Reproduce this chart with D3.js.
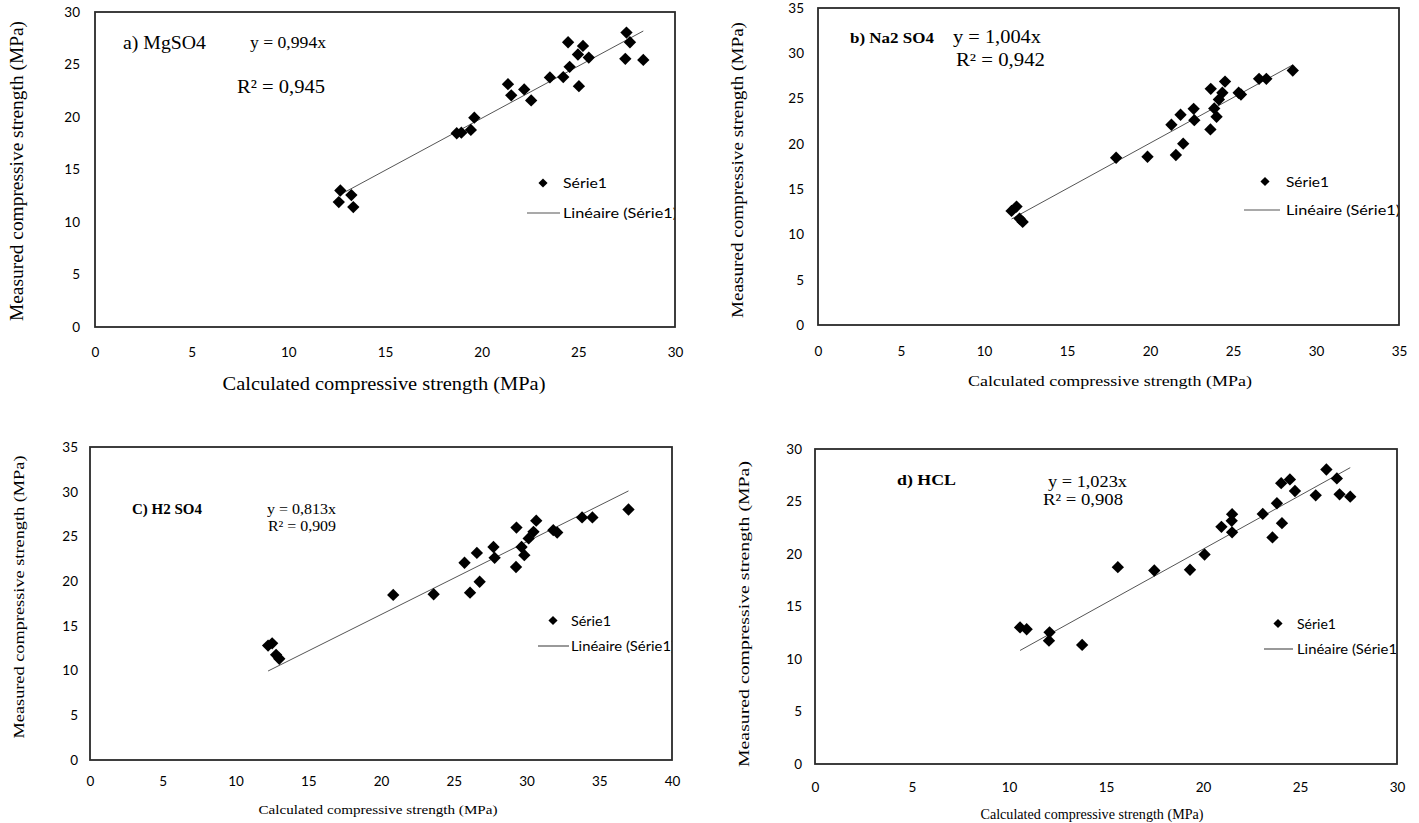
<!DOCTYPE html>
<html><head><meta charset="utf-8">
<script src="https://cdn.jsdelivr.net/npm/d3@7"></script>
<style>body{margin:0;background:#fff}svg{display:block}</style>
</head><body>
<svg id="c" width="1419" height="823"></svg>
<script>
// ---------- DATA ----------
const mgso4X = [12.69,13.26,12.61,13.36,18.71,18.95,19.44,19.62,21.36,21.53,22.20,22.56,23.53,24.22,24.55,25.03,24.47,24.98,25.24,25.54,27.49,27.67,27.43,28.36];
const mgso4Y = [13.00,12.56,11.90,11.42,18.45,18.51,18.77,19.94,23.13,22.06,22.63,21.58,23.77,23.80,24.78,22.94,27.12,25.95,26.77,25.66,28.04,27.12,25.54,25.44];
const na2so4X = [11.66,11.96,12.14,12.33,17.96,19.85,21.56,22.00,21.29,21.84,22.63,22.67,23.64,23.66,23.87,24.01,24.15,24.36,24.52,25.34,25.48,26.57,27.01,28.60];
const na2so4Y = [12.60,13.07,11.75,11.38,18.47,18.58,18.77,20.02,22.11,23.21,23.87,22.62,21.59,26.08,23.91,22.99,24.90,25.64,26.88,25.64,25.45,27.18,27.18,28.10];
const h2so4X = [12.24,12.52,12.79,13.01,20.84,23.62,26.12,26.78,25.74,26.59,27.73,27.81,29.28,29.31,29.66,29.85,30.15,30.48,30.67,31.84,32.11,33.82,34.53,37.01];
const h2so4Y = [12.79,13.05,11.76,11.32,18.46,18.53,18.71,19.93,22.06,23.16,23.82,22.61,21.58,25.99,23.82,22.90,24.78,25.51,26.76,25.70,25.44,27.13,27.13,28.01];
const hclX = [10.57,10.91,12.09,12.06,13.77,15.61,17.49,19.33,20.08,20.95,21.50,21.48,21.50,23.08,23.58,23.81,24.07,24.03,24.48,24.74,25.81,26.36,26.90,27.04,27.59];
const hclY = [13.01,12.83,12.54,11.75,11.34,18.75,18.43,18.50,19.95,22.59,23.79,23.16,22.06,23.82,21.58,24.83,22.94,26.75,27.10,26.00,25.59,28.05,27.20,25.68,25.46];
const slopes = [0.994, 1.004, 0.813, 1.023];
const titles = ["a) MgSO4", "b) Na2 SO4", "C) H2 SO4", "d) HCL"];
const eqTexts = ["y = 0,994x", "y = 1,004x", "y = 0,813x", "y = 1,023x"];
const r2Texts = ["R² = 0,945", "R² = 0,942", "R² = 0,909", "R² = 0,908"];
const ticksA = [0,5,10,15,20,25,30];
const ticksB = [0,5,10,15,20,25,30,35];
const ticksC = [0,5,10,15,20,25,30,35,40];
const legendNames = ["Série1", "Linéaire (Série1)"];
const xTitle = "Calculated compressive strength  (MPa)";
const yTitle = "Measured compressive strength (MPa)";

// ---------- LAYOUT ----------
const panels = [
  {X:mgso4X, Y:mgso4Y, xt:ticksA, yt:ticksA, xmax:30, ymax:30,
   L:95, T:12, R:675, B:327, xtY:358, ytX:80,
   title:{x:123,y:49,fs:19.5,bold:false,len:83}, eq:{x:250,y:48,fs:16,len:76}, r2:{x:237,y:93,fs:19.5,len:88},
   leg:{dx:543, dy:183, tx:563, ly:213, lx1:527, lx2:560, l1:44, l2:114},
   yl:{x:23, y:171, fs:18, len:300}, xl:{x:384, y:390, fs:18, len:323}},
  {X:na2so4X, Y:na2so4Y, xt:ticksB, yt:ticksB, xmax:35, ymax:35,
   L:818, T:8, R:1399, B:325, xtY:357, ytX:804,
   title:{x:850,y:43,fs:15,bold:true,len:84}, eq:{x:953,y:43,fs:18,len:88}, r2:{x:956,y:65.5,fs:18,len:89},
   leg:{dx:1265, dy:181.5, tx:1286, ly:210, lx1:1244, lx2:1280, l1:43, l2:114},
   yl:{x:743, y:170, fs:17, len:296}, xl:{x:1110, y:386, fs:15, len:284}},
  {X:h2so4X, Y:h2so4Y, xt:ticksC, yt:ticksB, xmax:40, ymax:35,
   L:90, T:447, R:672, B:760, xtY:787, ytX:78,
   title:{x:132,y:514,fs:14,bold:true,len:70}, eq:{x:267,y:514,fs:14,len:69}, r2:{x:268,y:530.5,fs:14,len:68},
   leg:{dx:553, dy:620.5, tx:571, ly:646, lx1:538, lx2:569, l1:40, l2:104},
   yl:{x:24, y:597, fs:15, len:283}, xl:{x:378, y:814, fs:13, len:239}},
  {X:hclX, Y:hclY, xt:ticksA, yt:ticksA, xmax:30, ymax:30,
   L:815, T:449, R:1397, B:764, xtY:793, ytX:802,
   title:{x:897,y:485,fs:15.5,bold:true,len:59}, eq:{x:1048,y:487,fs:16,len:79}, r2:{x:1043,y:505,fs:16,len:80},
   leg:{dx:1278, dy:623.5, tx:1297, ly:649, lx1:1264, lx2:1293, l1:39, l2:104},
   yl:{x:749, y:614, fs:15, len:306}, xl:{x:1092, y:819, fs:14, len:223}}
];

const svg = d3.select("#c");
const serif = "'Liberation Serif','Times New Roman',serif";
const sans = "Lato,'Liberation Sans',Arial,sans-serif";
const tickFs = 13.5, legFs = 14;
const diamond = d3.symbol(d3.symbolSquare, 76);

panels.forEach((p, i) => {
  const g = svg.append("g");
  const x = d3.scaleLinear().domain([0, p.xmax]).range([p.L, p.R]);
  const y = d3.scaleLinear().domain([0, p.ymax]).range([p.B, p.T]);

  // tick labels via axes (no lines)
  const xa = g.append("g").attr("transform", `translate(0,${p.B})`)
    .call(d3.axisBottom(x).tickValues(p.xt).tickSize(0).tickPadding(p.xtY - p.B - tickFs * 0.75));
  const ya = g.append("g").attr("transform", `translate(${p.L},0)`)
    .call(d3.axisLeft(y).tickValues(p.yt).tickSize(0).tickPadding(p.L - p.ytX));
  [xa, ya].forEach(a => {
    a.select(".domain").remove();
    a.selectAll("text").attr("font-family", sans).attr("font-size", tickFs).attr("fill", "#000");
  });

  // trend line
  const xs = d3.extent(p.X);
  g.append("line")
    .attr("x1", x(xs[0])).attr("y1", y(slopes[i] * xs[0]))
    .attr("x2", x(xs[1])).attr("y2", y(slopes[i] * xs[1]))
    .attr("stroke", "#555").attr("stroke-width", 1);

  // points
  g.append("g").selectAll("path").data(p.X.map((v, k) => [v, p.Y[k]])).join("path")
    .attr("d", diamond)
    .attr("transform", d => `translate(${x(d[0])},${y(d[1])}) rotate(45)`)
    .attr("fill", "#000");

  // legend
  g.append("path").attr("d", d3.symbol(d3.symbolSquare, 42))
    .attr("transform", `translate(${p.leg.dx},${p.leg.dy}) rotate(45)`).attr("fill", "#000");
  g.append("text").attr("x", p.leg.tx).attr("y", p.leg.dy + 5).text(legendNames[0])
    .attr("font-family", sans).attr("font-size", legFs)
    .attr("textLength", p.leg.l1).attr("lengthAdjust", "spacingAndGlyphs");
  g.append("line").attr("x1", p.leg.lx1).attr("x2", p.leg.lx2).attr("y1", p.leg.ly).attr("y2", p.leg.ly)
    .attr("stroke", "#555").attr("stroke-width", 1.2);
  const clipId = "clip" + i;
  svg.append("clipPath").attr("id", clipId).append("rect")
    .attr("x", p.L).attr("y", p.T).attr("width", p.R - p.L).attr("height", p.B - p.T);
  g.append("text").attr("x", p.leg.tx).attr("y", p.leg.ly + 5).text(legendNames[1])
    .attr("font-family", sans).attr("font-size", legFs)
    .attr("textLength", p.leg.l2).attr("lengthAdjust", "spacingAndGlyphs")
    .attr("clip-path", `url(#${clipId})`);

  // annotations
  [[p.title, titles[i]], [p.eq, eqTexts[i]], [p.r2, r2Texts[i]]].forEach(([o, t]) => {
    g.append("text").attr("x", o.x).attr("y", o.y).text(t)
      .attr("font-family", serif).attr("font-size", o.fs)
      .attr("font-weight", o.bold ? "bold" : "normal")
      .attr("textLength", o.len).attr("lengthAdjust", "spacingAndGlyphs");
  });

  // frame
  g.append("rect").attr("x", p.L).attr("y", p.T).attr("width", p.R - p.L).attr("height", p.B - p.T)
    .attr("fill", "none").attr("stroke", "#2a2a2a").attr("stroke-width", 1.8);

  // axis titles
  g.append("text").attr("x", p.xl.x).attr("y", p.xl.y).attr("text-anchor", "middle")
    .attr("font-family", serif).attr("font-size", p.xl.fs)
    .attr("textLength", p.xl.len).attr("lengthAdjust", "spacingAndGlyphs").text(xTitle);
  g.append("text").attr("transform", `translate(${p.yl.x},${p.yl.y}) rotate(-90)`).attr("text-anchor", "middle")
    .attr("font-family", serif).attr("font-size", p.yl.fs)
    .attr("textLength", p.yl.len).attr("lengthAdjust", "spacingAndGlyphs").text(yTitle);
});
</script>
</body></html>
